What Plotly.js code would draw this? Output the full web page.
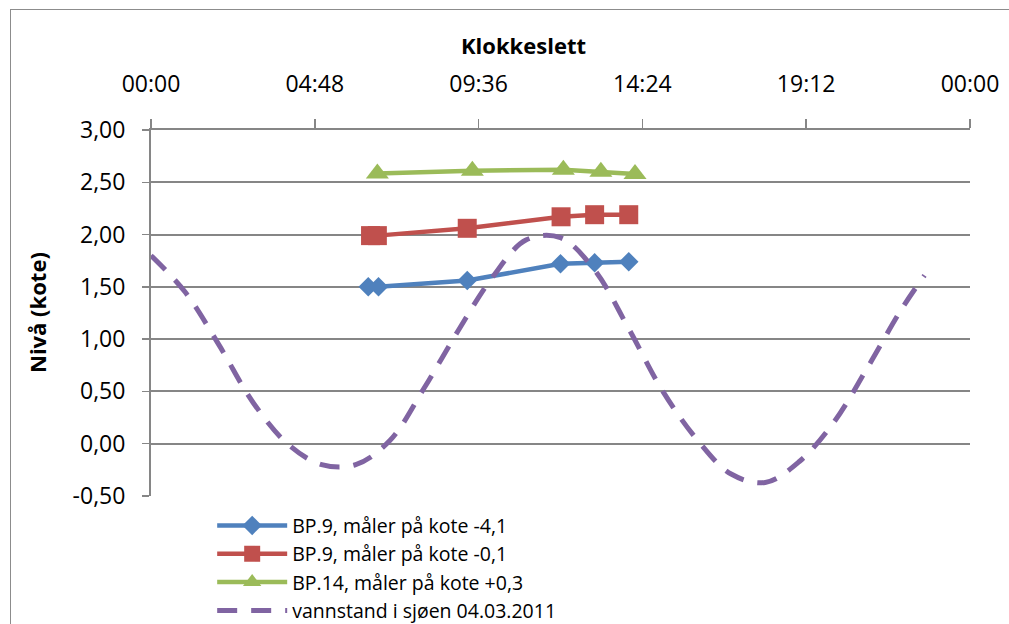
<!DOCTYPE html>
<html>
<head>
<meta charset="utf-8">
<script src="https://cdn.plot.ly/plotly-3.0.1.min.js"></script>
<style>
html,body{margin:0;padding:0;background:#fff;overflow:hidden;}
#frame{position:absolute;left:10px;top:9px;width:1100px;height:700px;border:1.5px solid #8c8c8c;box-sizing:border-box;}
#chart{position:absolute;left:0;top:0;width:1009px;height:624px;}
</style>
</head>
<body>
<div id="frame"></div>
<div id="chart"></div>
<script>
const day = '2011-03-04';
const nextDay = '2011-03-05';

const bp9aTimes = ['06:22','06:40','09:16','12:00','13:00','14:00'];
const bp9aValues = [1.50,1.50,1.56,1.72,1.73,1.74];

const bp9bTimes = ['06:26','06:38','09:16','12:01','13:00','14:00'];
const bp9bValues = [1.99,1.99,2.06,2.17,2.19,2.19];

const bp14Times = ['06:38','09:25','12:05','13:11','14:11'];
const bp14Values = [2.585,2.61,2.62,2.60,2.58];

const tideTimes = ['00:00','01:00','02:00','03:00','04:00','05:00','06:00','07:00','08:00','09:00','10:00','11:00',
                   '12:00','13:00','14:00','15:00','16:00','17:00','18:00','19:00','20:00','21:00','22:00','22:40'];
const tideValues = [1.80,1.45,0.94,0.39,0.00,-0.20,-0.20,0.03,0.53,1.08,1.59,1.95,
                    1.97,1.66,1.10,0.50,0.04,-0.29,-0.37,-0.17,0.20,0.73,1.29,1.61];

const yTickVals = [-0.5,0,0.5,1,1.5,2,2.5,3];
const yTickText = ['-0,50','0,00','0,50','1,00','1,50','2,00','2,50','3,00'];

const names = ['BP.9, måler på kote -4,1','BP.9, måler på kote -0,1','BP.14, måler på kote +0,3','vannstand i sjøen 04.03.2011'];
const xTitle = 'Klokkeslett';
const yTitle = 'Nivå (kote)';

const toDate = t => day + ' ' + t;

const traces = [
  {x: bp9aTimes.map(toDate), y: bp9aValues, name: names[0], mode: 'lines+markers', type: 'scatter',
   line: {color: '#4F81BD', width: 4.5}, marker: {symbol: 'diamond', size: 15, color: '#4F81BD'}},
  {x: bp9bTimes.map(toDate), y: bp9bValues, name: names[1], mode: 'lines+markers', type: 'scatter',
   line: {color: '#C0504D', width: 4.5}, marker: {symbol: 'square', size: 19, color: '#C0504D'}},
  {x: bp14Times.map(toDate), y: bp14Values, name: names[2], mode: 'lines+markers', type: 'scatter',
   line: {color: '#9BBB59', width: 4.5}, marker: {symbol: 'triangle-up', size: 20, color: '#9BBB59'}},
  {x: tideTimes.map(toDate), y: tideValues, name: names[3], mode: 'lines', type: 'scatter',
   line: {color: '#8064A2', width: 5, dash: '20px,14px', shape: 'spline', smoothing: 1}}
];

const fontFam = '"Open Sans", "Liberation Sans", sans-serif';

const layout = {
  width: 1009, height: 624,
  margin: {l: 151, r: 39, t: 130, b: 128, autoexpand: false},
  paper_bgcolor: 'rgba(0,0,0,0)',
  plot_bgcolor: 'rgba(0,0,0,0)',
  separators: ', ',
  font: {family: fontFam, color: '#000'},
  showlegend: true,
  legend: {x: 0.0747, y: -0.028, xanchor: 'left', yanchor: 'top', font: {size: 19.5, family: fontFam, color: '#000'},
           bgcolor: 'rgba(0,0,0,0)', itemwidth: 70, tracegroupgap: 0},
  xaxis: {
    type: 'date', side: 'top', range: [day + ' 00:00', nextDay + ' 00:00'],
    tick0: day + ' 00:00', dtick: 4.8 * 3600 * 1000, tickformat: '%H:%M',
    ticks: 'outside', ticklen: 9, tickwidth: 1.5, tickcolor: '#868686', ticklabelstandoff: 18,
    showline: true, linecolor: '#868686', linewidth: 2, showgrid: false, zeroline: false,
    tickfont: {size: 23, family: fontFam, color: '#000'}
  },
  yaxis: {
    range: [-0.5, 3.0], tickmode: 'array', tickvals: yTickVals, ticktext: yTickText,
    ticks: 'outside', ticklen: 7, tickwidth: 1.5, tickcolor: '#868686', ticklabelstandoff: 12,
    showline: true, linecolor: '#868686', linewidth: 2,
    showgrid: true, gridcolor: '#868686', gridwidth: 2, zeroline: false,
    tickfont: {size: 23, family: fontFam, color: '#000'}
  },
  annotations: [
    {text: '<b>' + xTitle + '</b>', xref: 'paper', yref: 'paper', x: (523 - 151) / 819, y: 1 + (130 - 45) / 366,
     xanchor: 'center', yanchor: 'middle', showarrow: false, font: {size: 22, family: fontFam, color: '#000'}},
    {text: '<b>' + yTitle + '</b>', xref: 'paper', yref: 'paper', x: -(151 - 37) / 819, y: 0.5,
     xanchor: 'center', yanchor: 'middle', textangle: -90, showarrow: false, font: {size: 22, family: fontFam, color: '#000'}}
  ]
};

Plotly.newPlot('chart', traces, layout, {displayModeBar: false, staticPlot: true});
</script>
</body>
</html>
